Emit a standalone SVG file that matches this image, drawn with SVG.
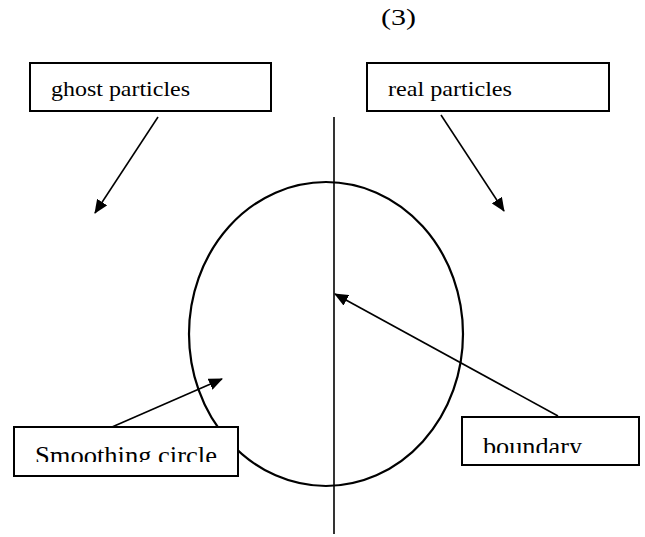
<svg xmlns="http://www.w3.org/2000/svg" width="645" height="537" viewBox="0 0 645 537">
  <style>
    .box { fill: #fff; stroke: #000; stroke-width: 2; }
    .lbl { font-family: "Liberation Serif", "Times New Roman", serif; fill: #000; }
    .conn { stroke: #000; stroke-width: 1.6; fill: none; marker-end: url(#ah); }
  </style>
  <defs>
    <marker id="ah" markerUnits="userSpaceOnUse" markerWidth="14" markerHeight="12" refX="13" refY="6" orient="auto">
      <path d="M0,0 L14,6 L0,12 z" fill="#000"/>
    </marker>
    <clipPath id="clipS"><rect x="14" y="427" width="224" height="35"/></clipPath>
    <clipPath id="clipB"><rect x="462" y="417" width="177" height="36"/></clipPath>
  </defs>
  <rect width="645" height="537" fill="#fff"/>

  <text class="lbl" x="381" y="25" font-size="24" textLength="35" lengthAdjust="spacingAndGlyphs">(3)</text>

  <g id="smoothing-circle-shape">
    <ellipse cx="326" cy="334" rx="137" ry="152" fill="none" stroke="#000" stroke-width="2.2"/>
  </g>
  <g id="boundary-line">
    <line x1="334" y1="117" x2="334" y2="534" stroke="#000" stroke-width="1.6"/>
  </g>

  <g id="ghost-particles">
    <rect class="box" x="30" y="63" width="241" height="48"/>
    <text class="lbl" x="51" y="96" font-size="22" textLength="139" lengthAdjust="spacingAndGlyphs">ghost particles</text>
  </g>
  <g id="real-particles">
    <rect class="box" x="367" y="63" width="242" height="48"/>
    <text class="lbl" x="388" y="96" font-size="22" textLength="124" lengthAdjust="spacingAndGlyphs">real particles</text>
  </g>
  <g id="smoothing-circle">
    <rect class="box" x="14" y="427" width="224" height="49"/>
    <text class="lbl" x="35" y="464" font-size="25" textLength="182" lengthAdjust="spacingAndGlyphs" clip-path="url(#clipS)">Smoothing circle</text>
  </g>
  <g id="boundary">
    <rect class="box" x="462" y="417" width="177" height="48"/>
    <text class="lbl" x="483" y="455" font-size="25" textLength="99" lengthAdjust="spacingAndGlyphs" clip-path="url(#clipB)">boundary</text>
  </g>

  <g id="connectors">
    <line class="conn" x1="158" y1="117" x2="95" y2="213"/>
    <line class="conn" x1="441" y1="115" x2="504" y2="211"/>
    <line class="conn" x1="558" y1="416" x2="335" y2="294"/>
    <line class="conn" x1="112" y1="427" x2="222" y2="379"/>
  </g>
</svg>
